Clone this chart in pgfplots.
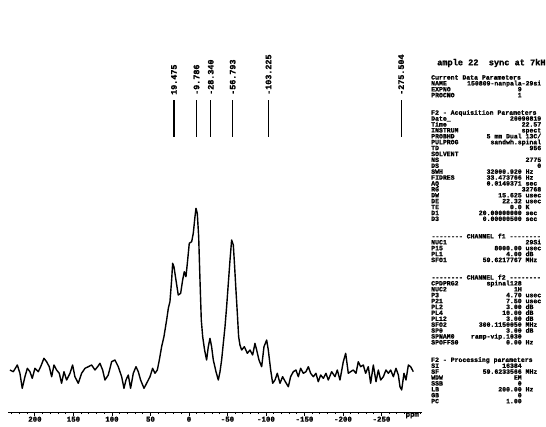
\documentclass[border=0pt]{standalone}
\usepackage{pgfplots}
\pgfplotsset{compat=1.18}
\usepackage{fontspec}
\setmainfont{Liberation Mono}
\newfontfamily\monob{Liberation Mono}[BoldFeatures={FakeBold=1.2}]
\newcommand\pf{\monob\bfseries\fontsize{6.5}{5.9}\selectfont}
\newcommand\tickf{\monob\bfseries\fontsize{7.4}{8}\selectfont}
\newcommand\peakf{\monob\bfseries\fontsize{8.4}{9}\selectfont}
\newcommand\prm[3]{\hbox to 110pt{#1\hfill #2\hspace{3.9pt}\makebox[15.6pt][l]{#3}}}
\newcommand\prmn[2]{\hbox to 110pt{#1\hfill #2}}
\newcommand\hdr[1]{\hbox to 110pt{#1\hfill}}
\newcommand\hdc[1]{\hbox to 110pt{\hfill#1\hfill}}
\newcommand\gap{\vskip 11.6pt}

\pgfplotstableread{
x y
232.5 10
228.1 8.3
222.9 15
219.5 6.7
216.5 -8.3
213.0 3.3
209.9 11.7
206.5 8.3
203.5 1.7
200.0 11.7
195.7 8.3
192.6 13.3
188.3 21.7
184.9 18.3
181.4 13.3
178.3 3.3
175.3 15
171.9 10
168.4 6.7
165.4 -3.3
162.3 8.3
158.9 0
154.5 6.7
151.1 15
148.1 3.3
143.7 -3.3
139.4 6.7
135.0 11.7
130.7 13.3
126.4 15
122.1 10
118.6 13.3
115.6 16.7
112.1 10
109.1 0
104.8 5
100.4 18.3
96.1 20
91.8 13.3
87.4 3.3
84.4 -8.3
81.8 0
78.8 5
75.8 -8.3
72.3 6.7
68.8 13.3
65.8 8.3
62.8 0
58.4 -8.3
55.0 -3.3
50.6 3.3
47.2 11.7
44.1 6.7
41.1 10
38.5 20
35.5 33.3
32.5 43.3
29.0 60
26.8 71.7
24.7 78.3
22.5 100
21.2 116.7
19.5 113.3
16.9 100
13.9 85
10.8 86.7
8.2 100
6.1 108.3
3.9 103.3
1.7 120
-0.4 136.7
-3.5 138.3
-5.6 146.7
-7.8 163.3
-9.1 171.7
-10.8 166.7
-12.6 143.3
-14.3 100
-16.0 60
-17.8 43.3
-20.3 30
-22.9 20
-25.1 33.3
-27.3 41.7
-29.4 33.3
-31.6 20
-35.1 8.3
-38.1 0
-40.3 8.3
-42.4 20
-44.6 36.7
-46.8 53.3
-48.9 73.3
-51.1 96.7
-53.3 120
-55.4 140
-57.6 135
-59.3 113.3
-61.0 90
-62.8 66.7
-64.5 43.3
-66.2 35
-68.4 30
-71.9 33.3
-75.8 26.7
-79.2 30
-82.7 25
-85.7 36.7
-87.9 30
-90.9 20
-94.4 13.3
-97.4 33.3
-100.9 40
-103.0 30
-106.1 10
-108.7 -3.3
-111.7 0
-114.7 6.7
-118.2 -3.3
-121.6 3.3
-125.1 -1.7
-129.0 -6.7
-132.0 3.3
-135.5 8.3
-138.9 10
-142.0 3.3
-145.0 11.7
-148.5 6.7
-151.9 8.3
-155.0 13.3
-158.0 6.7
-161.5 3.3
-164.9 6.7
-167.9 -1.7
-171.0 5
-174.5 1.7
-177.9 6.7
-180.9 0
-185.3 8.3
-189.6 3.3
-192.6 10
-196.1 0
-200.4 18.3
-203.5 26.7
-206.9 6.7
-209.9 8.3
-213.4 10
-216.9 6.7
-219.9 18.3
-222.9 13.3
-226.4 15
-229.4 6.7
-232.9 13.3
-235.9 -3.3
-239.4 15
-242.9 -1.7
-245.9 10
-248.9 0
-252.4 3.3
-255.8 10
-258.9 6.7
-261.9 10
-265.4 3.3
-268.8 11.7
-271.9 5
-274.0 -6.7
-276.2 -10
-279.2 6.7
-281.8 0
-284.9 15
-287.9 13.3
-291.3 8.3
}\spectrum

\pgfplotstableread{
x y
19.475 243
19.475 280
19.475 nan
-9.786 243
-9.786 280
-9.786 nan
-28.340 243
-28.340 280
-28.340 nan
-56.793 243
-56.793 280
-56.793 nan
-103.225 243
-103.225 280
-103.225 nan
-275.504 243
-275.504 280
}\peaklines

\pgfplotstableread{
x y label
19.475 285 19.475
-9.786 285 -9.786
-28.340 285 -28.340
-56.793 285 -56.793
-103.225 285 -103.225
-275.504 285 -275.504
}\peaklabels

\begin{document}
\begin{tikzpicture}
\useasboundingbox (0,0) rectangle (546pt,426pt);
\begin{axis}[
  at={(8pt,14pt)}, anchor=south west,
  width=414pt, height=372pt, scale only axis,
  x dir=reverse, xmin=-302.6, xmax=235, ymin=-32, ymax=340,
  axis x line=bottom, axis y line=none,
  axis line style={-, line width=1pt},
  clip=false,
  xtick={-250,-200,-150,-100,-50,0,50,100,150,200},
  xticklabels={-250,-200,-150,-100,-50,0,50,100,150,200},
  minor xtick={-300,-290,...,230},
  tick align=outside, major tick length=4pt, minor tick length=2.2pt,
  tick style={black, line width=0.9pt},
  xticklabel style={font=\tickf, inner sep=0pt, yshift=-0.5pt},
  extra x ticks={-290}, extra x tick labels={ppm},
  extra x tick style={major tick length=0pt},
]
\addplot[black, line width=1.4pt, line join=round, mark=none] table {\spectrum};
\addplot[black, line width=1.2pt, mark=none, unbounded coords=jump] table {\peaklines};
\addplot[only marks, mark=none, nodes near coords, point meta=explicit symbolic,
  nodes near coords style={rotate=90, anchor=west, font=\peakf, inner sep=0pt, black}]
  table[meta=label] {\peaklabels};
\end{axis}
\node[anchor=west, inner sep=0pt, font=\monob\bfseries\fontsize{8.6}{10}\selectfont] at (437pt,363pt) {ample 22\ \ sync at 7kH};
\node[anchor=north west, inner sep=0pt] at (431pt,351pt) {\parbox[t]{110pt}{\pf\lineskiplimit=-20pt\lineskip=0pt
\hdr{Current Data Parameters}
\prmn{NAME}{150809-nanpala-29si}
\prm{EXPNO}{9}{}
\prm{PROCNO}{1}{}
\gap
\hdr{F2 - Acquisition Parameters}
\prmn{Date\_}{20090819}
\prmn{Time}{22.57}
\prmn{INSTRUM}{spect}
\prmn{PROBHD}{5 mm Dual 13C/}
\prmn{PULPROG}{sandwh.spinal}
\prmn{TD}{956}
\prmn{SOLVENT}{}
\prmn{NS}{2775}
\prmn{DS}{0}
\prm{SWH}{32000.920}{Hz}
\prm{FIDRES}{33.473766}{Hz}
\prm{AQ}{0.0149371}{sec}
\prmn{RG}{32768}
\prm{DW}{15.625}{usec}
\prm{DE}{22.32}{usec}
\prm{TE}{0.0}{K}
\prm{D1}{20.00000000}{sec}
\prm{D3}{0.00000500}{sec}
\gap
\hdc{-------- CHANNEL f1 --------}
\prmn{NUC1}{29Si}
\prm{P15}{8000.00}{usec}
\prm{PL1}{4.00}{dB}
\prm{SFO1}{59.6217767}{MHz}
\gap
\hdc{-------- CHANNEL f2 --------}
\prm{CPDPRG2}{spinal128}{}
\prm{NUC2}{1H}{}
\prm{P3}{4.70}{usec}
\prm{P21}{7.50}{usec}
\prm{PL2}{3.00}{dB}
\prm{PL4}{10.00}{dB}
\prm{PL12}{3.00}{dB}
\prm{SFO2}{300.1150050}{MHz}
\prm{SP0}{3.00}{dB}
\prm{SPNAM0}{ramp-vip.1030}{}
\prm{SPOFFS0}{0.00}{Hz}
\gap
\hdr{F2 - Processing parameters}
\prm{SI}{16384}{}
\prm{SF}{59.6233566}{MHz}
\prm{WDW}{EM}{}
\prm{SSB}{0}{}
\prm{LB}{200.00}{Hz}
\prm{GB}{0}{}
\prm{PC}{1.00}{}
}};
\end{tikzpicture}
\end{document}
